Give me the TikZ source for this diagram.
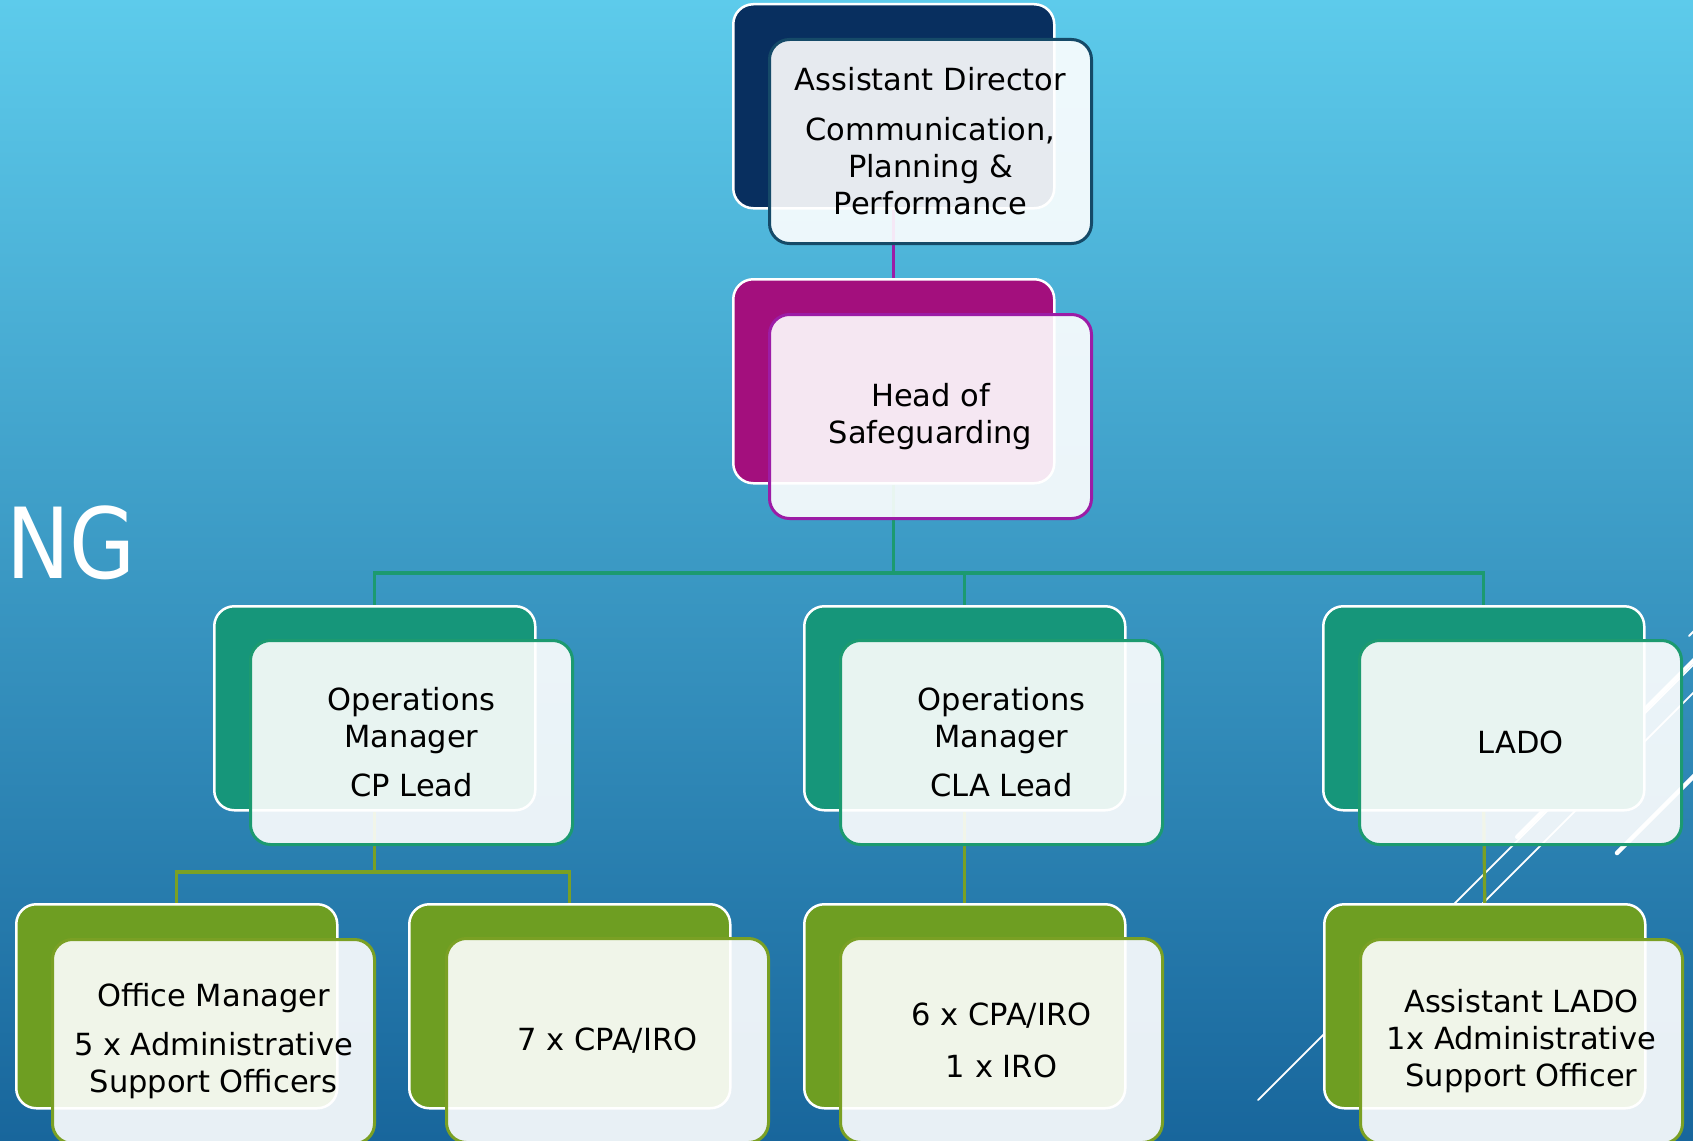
\documentclass[tikz,border=0pt]{standalone}
\usepackage{fontspec}
\setmainfont{DejaVu Sans}
\pgfdeclarelayer{bg}
\pgfdeclarelayer{links}
\pgfsetlayers{bg,links,main}
\definecolor{bgtop}{RGB}{93,203,235}
\definecolor{bgbot}{RGB}{24,102,156}
\definecolor{navy}{RGB}{8,47,95}
\definecolor{navyline}{RGB}{21,74,104}
\definecolor{magback}{RGB}{163,15,125}
\definecolor{magline}{RGB}{156,28,166}
\definecolor{tealback}{RGB}{22,150,122}
\definecolor{tealline}{RGB}{28,154,112}
\definecolor{oliveback}{RGB}{110,158,34}
\definecolor{oliveline}{RGB}{122,160,36}
\begin{document}
\begin{tikzpicture}[x=1pt,y=-1pt,
  backbox/.style={draw=white, line width=2.5pt, rounded corners=20pt,
    minimum width=321pt, minimum height=204pt, inner sep=0pt, anchor=north west},
  frontbox/.style={fill=white, fill opacity=0.9, text opacity=1, line width=3pt,
    rounded corners=20pt, minimum width=322pt, minimum height=204pt, inner sep=0pt,
    anchor=north west, align=center, text=black, font=\fontsize{30.5}{37}\selectfont},
  link/.style={line width=3.2pt},
  deco/.style={draw=white, line cap=round}]
\useasboundingbox (0,0) rectangle (1693,1140);

% level 1
\node[backbox, fill=navy] (adB) at (732,3) {};
\node[frontbox, draw=navyline] (adF) at (768,38)
  {Assistant Director\\[13pt]Communication,\\Planning \&\\Performance};
% level 2
\node[backbox, fill=magback] (hosB) at (732,278) {};
\node[frontbox, draw=magline] (hosF) at (768,313) {Head of\\Safeguarding};
% level 3
\node[backbox, fill=tealback] (om1B) at (213,605) {};
\node[frontbox, draw=tealline] (om1F) at (249,639) {Operations\\Manager\\[12pt]CP Lead};
\node[backbox, fill=tealback] (om2B) at (803,605) {};
\node[frontbox, draw=tealline] (om2F) at (839,639) {Operations\\Manager\\[12pt]CLA Lead};
\node[backbox, fill=tealback] (ladoB) at (1322,605) {};
\node[frontbox, draw=tealline] (ladoF) at (1358,639) {LADO};
% level 4
\node[backbox, fill=oliveback] (c1B) at (15,903) {};
\node[frontbox, draw=oliveline] (c1F) at (51,938)
  {Office Manager\\[12pt]5 x Administrative\\Support Officers};
\node[backbox, fill=oliveback] (c2B) at (408,903) {};
\node[frontbox, draw=oliveline] (c2F) at (445,937) {7 x CPA/IRO};
\node[backbox, fill=oliveback] (c3B) at (803,903) {};
\node[frontbox, draw=oliveline] (c3F) at (839,937) {6 x CPA/IRO\\[15pt]1 x IRO};
\node[backbox, fill=oliveback] (c4B) at (1323,903) {};
\node[frontbox, draw=oliveline] (c4F) at (1359,938)
  {Assistant LADO\\1x Administrative\\Support Officer};

\coordinate (bus1) at (0,573);
\coordinate (bus2) at (0,872);

\begin{pgfonlayer}{links}
\draw[link, magline] (adB.south) -- (hosB.north);
\draw[link, tealline] (hosB.south) -- (hosB.south |- bus1) -| (om1B.north);
\draw[link, tealline] (hosB.south |- bus1) -| (om2B.north);
\draw[link, tealline] (hosB.south |- bus1) -| (ladoB.north);
\draw[link, oliveline] (om1B.south) -- (om1B.south |- bus2) -| (c1B.north);
\draw[link, oliveline] (om1B.south |- bus2) -| (c2B.north);
\draw[link, oliveline] (om2B.south) -- (c3B.north);
\draw[link, oliveline] (ladoB.south) -- (c4B.north);
\end{pgfonlayer}

\begin{pgfonlayer}{bg}
\shade[top color=bgtop, bottom color=bgbot] (0,0) rectangle (1693,1140);
\draw[deco, line width=4pt] (1517,837) -- (1710,644);
\draw[deco, line width=4.5pt] (1617,853) -- (1710,760);
\draw[deco, line width=1.8pt] (1258,1100) -- (1710,648);
\draw[deco, line width=1.8pt] (1480,906) -- (1710,676);
\draw[deco, line width=2pt] (1689,636) -- (1710,615);
\node[anchor=base west, text=white, inner sep=0pt,
  font=\fontsize{98}{98}\selectfont] (ng) at (6,578) {\scalebox{0.87}[1]{NG}};
\end{pgfonlayer}
\end{tikzpicture}
\end{document}
